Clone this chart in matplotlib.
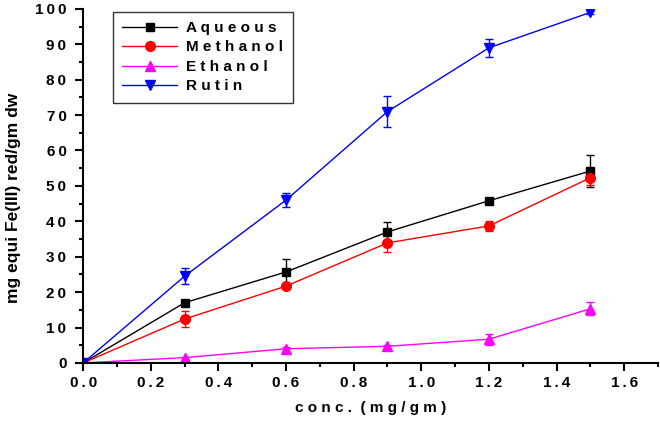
import numpy as np
import matplotlib.pyplot as plt
from matplotlib.ticker import MultipleLocator, FuncFormatter

plt.rcParams['font.family'] = ['Liberation Sans', 'DejaVu Sans']
plt.rcParams['font.weight'] = 'bold'

conc = [0.0, 0.3, 0.6, 0.9, 1.2, 1.5]

aqueous = [0, 17.0, 25.7, 37.0, 45.8, 54.2]
aqueous_err = [0, 0.8, 3.7, 2.8, 0.6, 4.5]
methanol = [0, 12.4, 21.7, 33.9, 38.7, 52.3]
methanol_err = [0, 2.2, 0.6, 2.5, 1.3, 2.0]
ethanol = [0, 1.5, 4.0, 4.7, 6.7, 15.3]
ethanol_err = [0, 0.3, 0.5, 0.5, 1.5, 1.8]
rutin = [0, 24.5, 46.0, 71.0, 89.0, 99.0]
rutin_err = [0, 2.3, 2.0, 4.3, 2.5, 0.5]

series = [
    ("Aqueous", aqueous, aqueous_err, "black", "s", 6),
    ("Methanol", methanol, methanol_err, "red", "o", 7),
    ("Ethanol", ethanol, ethanol_err, "magenta", "^", 7.5),
    ("Rutin", rutin, rutin_err, "blue", "v", 7.5),
]

THIN = "\u2009"


def spaced(s):
    return THIN.join(s)


fig = plt.figure(figsize=(6.6, 4.22), dpi=100)
ax = fig.add_axes([0.126, 0.14, 0.871, 0.839])

handles = []
for name, y, err, c, m, ms in series:
    cont = ax.errorbar(conc, y, yerr=err, color=c, marker=m, markersize=ms, lw=1,
                       elinewidth=1, capsize=3, capthick=1, label=name)
    handles.append(cont[0])

ax.set_xlim(0, 1.7)
ax.set_ylim(0, 100)
ax.xaxis.set_major_locator(MultipleLocator(0.2))
ax.xaxis.set_minor_locator(MultipleLocator(0.1))
ax.yaxis.set_major_locator(MultipleLocator(10))
ax.yaxis.set_minor_locator(MultipleLocator(5))
ax.xaxis.set_major_formatter(FuncFormatter(lambda v, p: spaced(f"{v:.1f}")))
ax.yaxis.set_major_formatter(FuncFormatter(lambda v, p: spaced(f"{v:.0f}")))
ax.spines['top'].set_visible(False)
ax.spines['right'].set_visible(False)
for s in ['left', 'bottom']:
    ax.spines[s].set_linewidth(1.5)
ax.tick_params(which='major', length=6, width=1.5, labelsize=11)
ax.tick_params(axis='y', which='major', pad=6)
ax.tick_params(which='minor', length=3, width=1.5)

ax.set_xlabel("c o n c .  ( m g / g m )", fontsize=11, fontweight='bold', labelpad=8)
ax.set_ylabel("mg equi Fe(III) red/gm dw", fontsize=12.5, fontweight='bold')
ax.yaxis.set_label_coords(-0.108, 0.466)

leg = ax.legend(handles=handles, labels=[" ".join(s[0]) for s in series],
                loc='upper left', bbox_to_anchor=(0.052, 0.992), fancybox=False,
                edgecolor='black', fontsize=11, handlelength=3.6, borderpad=0.6,
                labelspacing=0.36, handletextpad=0.6, borderaxespad=0)
leg.get_frame().set_linewidth(1)

fig.savefig("out.png", dpi=100)
